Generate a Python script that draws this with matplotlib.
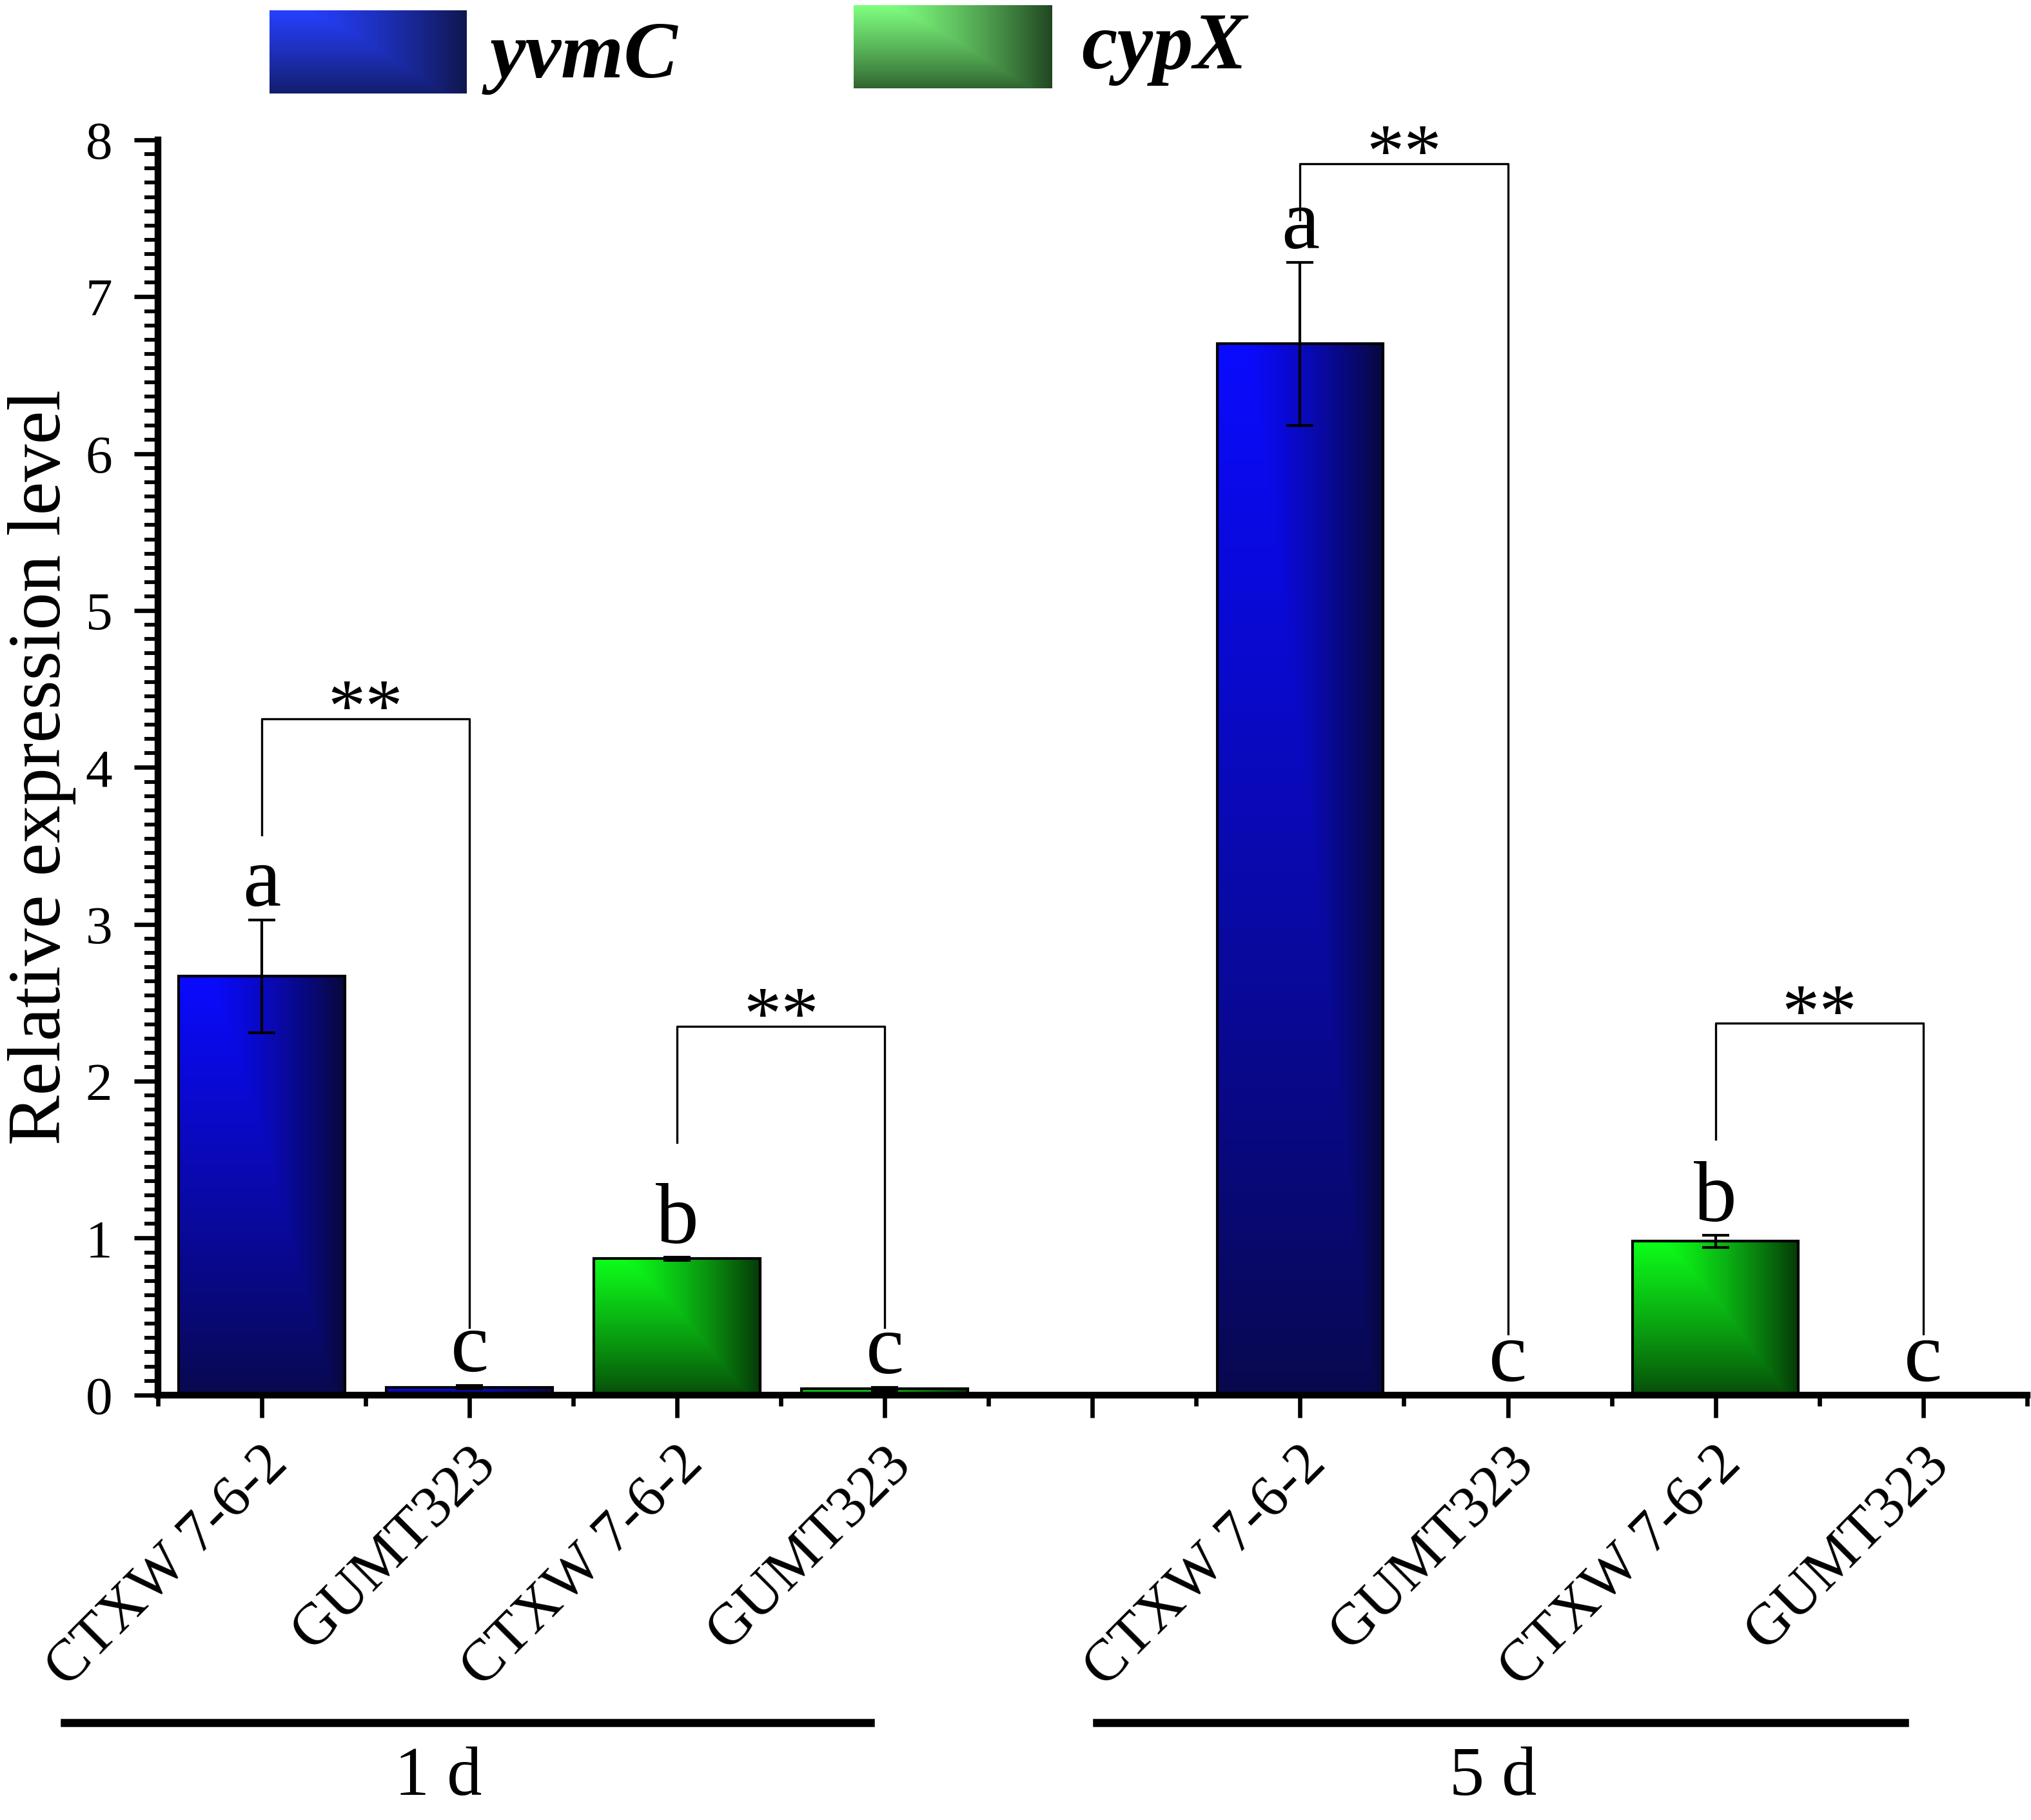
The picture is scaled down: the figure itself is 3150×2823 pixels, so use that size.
import numpy as np
import matplotlib
matplotlib.use("Agg")
import matplotlib.pyplot as plt
import matplotlib.transforms as mtransforms
from matplotlib.ticker import AutoMinorLocator, FixedLocator

plt.rcParams['font.family'] = ['Liberation Serif', 'DejaVu Serif']

# data
samples = ['CTXW 7-6-2', 'GUMT323', 'CTXW 7-6-2', 'GUMT323',
           'CTXW 7-6-2', 'GUMT323', 'CTXW 7-6-2', 'GUMT323']
genes = ['yvmC', 'yvmC', 'cypX', 'cypX', 'yvmC', 'yvmC', 'cypX', 'cypX']
positions = [1, 2, 3, 4, 6, 7, 8, 9]
values = [2.67, 0.05, 0.87, 0.04, 6.70, 0.0, 0.98, 0.0]
errors = [0.36, 0.01, 0.01, 0.01, 0.52, 0.0, 0.04, 0.0]
letters = ['a', 'c', 'b', 'c', 'a', 'c', 'b', 'c']
days = ['1 d', '5 d']
# significance brackets: (left x, right x, left start, right start, top)
brackets = [(1, 2, 3.57, 0.43, 4.31),
            (3, 4, 1.61, 0.43, 2.35),
            (6, 7, 7.49, 0.39, 7.85),
            (8, 9, 1.63, 0.39, 2.37)]

bright = {'yvmC': (0.04, 0.04, 1.0), 'cypX': (0.05, 1.0, 0.1)}
dark = {'yvmC': (0.03, 0.03, 0.13), 'cypX': (0.02, 0.12, 0.02)}


def shade(c1, c2, vlow=0.2, n=200):
    # bright top-left, darkening to the right and to the bottom
    u = np.linspace(0, 1, n)
    v = np.linspace(0, 1, n)
    hf = 1 - 0.88 * np.clip((u - 0.15) / 0.85, 0, 1) ** 1.3
    vf = vlow + (1 - vlow) * v ** 0.9
    b = np.minimum(hf[None, :], vf[:, None])
    c1 = np.array(c1)
    c2 = np.array(c2)
    return c2 + (c1 - c2) * b[:, :, None]


fig = plt.figure(figsize=(10.5, 9.41), dpi=300)
ax = fig.add_axes([0.0778, 0.2335, 0.9202, 0.6896])

bars = ax.bar(positions, values, width=0.8, facecolor='none',
              edgecolor='black', linewidth=1.0, zorder=3)
for b, g in zip(bars, genes):
    h = b.get_height()
    if h <= 0:
        continue
    ax.imshow(shade(bright[g], dark[g]), origin='lower', aspect='auto',
              interpolation='bilinear',
              extent=(b.get_x(), b.get_x() + b.get_width(), 0, h), zorder=2)

ax.errorbar(positions, values, yerr=errors, fmt='none', ecolor='black',
            elinewidth=1.0, capsize=5, capthick=1.0, zorder=4)

for x, v, e, t in zip(positions, values, errors, letters):
    ax.text(x, v + e + 0.09, t, ha='center', va='baseline', fontsize=32)

for x1, x2, y1, y2, top in brackets:
    ax.plot([x1, x1, x2, x2], [y1, top, top, y2], color='black', lw=0.8,
            clip_on=False, zorder=4)
    ax.text((x1 + x2) / 2, top - 0.08, '**', ha='center', va='baseline',
            fontsize=28)

ax.set_xlim(0.5, 9.5)
ax.set_ylim(0, 8)
ax.spines['top'].set_visible(False)
ax.spines['right'].set_visible(False)
ax.spines['left'].set_linewidth(2.5)
ax.spines['bottom'].set_linewidth(2.5)

ax.set_xticks(range(1, 10))
ax.xaxis.set_minor_locator(FixedLocator(np.arange(0.5, 10, 1.0)))
ax.tick_params(axis='x', which='major', length=8.5, width=1.6, pad=18)
ax.tick_params(axis='x', which='minor', length=4, width=1.6)
ticklabels = [''] * 9
for p, s in zip(positions, samples):
    ticklabels[p - 1] = s
ax.set_xticklabels(ticklabels, rotation=45, ha='right', va='center',
                   rotation_mode='anchor', fontsize=22)
# nudge the slanted labels right and up
shift = mtransforms.ScaledTranslation(6.5 / 72, 4 / 72, fig.dpi_scale_trans)
for lab in ax.get_xticklabels():
    lab.set_transform(lab.get_transform() + shift)

ax.set_yticks(range(0, 9))
ax.yaxis.set_minor_locator(AutoMinorLocator(11))
ax.tick_params(axis='y', which='major', length=9, width=1.6, pad=8,
               labelsize=20)
ax.tick_params(axis='y', which='minor', length=5, width=1.4)

ax.set_ylabel('Relative expression level', fontsize=28, va='center')
ax.yaxis.set_label_coords(-0.062, 0.5)

# group underlines and day labels
for (x1, x2), lx, d in zip([(0.05, 3.93), (5.02, 8.91)], [1.85, 6.93], days):
    ax.plot([x1, x2], [-0.261, -0.261], color='black', lw=3,
            transform=ax.get_xaxis_transform(), clip_on=False)
    ax.text(lx, -0.305, d, ha='center', va='center', fontsize=26,
            transform=ax.get_xaxis_transform())

# legend with shaded swatches
legend_boxes = {'yvmC': [0.1327, 0.9488, 0.0969, 0.0455],
                'cypX': [0.4203, 0.9516, 0.0976, 0.0455]}
legend_bright = {'yvmC': (0.15, 0.25, 1.0), 'cypX': (0.5, 1.0, 0.5)}
legend_dark = {'yvmC': (0.05, 0.07, 0.22), 'cypX': (0.08, 0.18, 0.08)}
legend_text = {'yvmC': (0.241, 0.968), 'cypX': (0.5325, 0.973)}
for g in ['yvmC', 'cypX']:
    lax = fig.add_axes(legend_boxes[g])
    lax.imshow(shade(legend_bright[g], legend_dark[g], vlow=0.25),
               origin='lower', aspect='auto', interpolation='bilinear')
    lax.axis('off')
    fig.text(legend_text[g][0], legend_text[g][1], g, fontsize=30,
             fontweight='bold', fontstyle='italic', ha='left', va='center')

fig.savefig('out.png', dpi=300)
